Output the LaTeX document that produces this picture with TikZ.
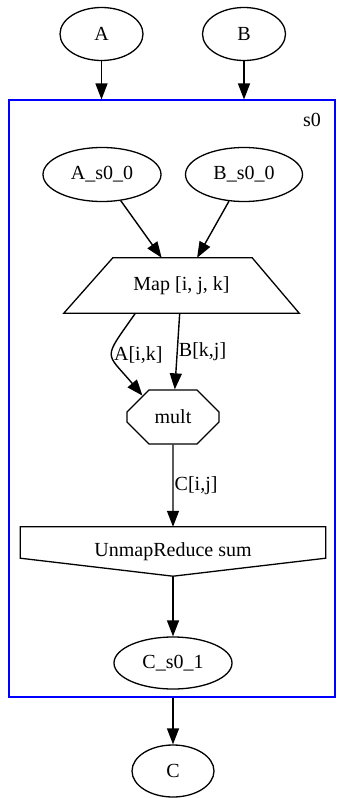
\documentclass[tikz,border=0pt]{standalone}
\usepackage{fontspec}
\setmainfont{Liberation Serif}
\usetikzlibrary{shapes.geometric,shapes.misc,arrows.meta}
\tikzstyle{en}=[shape=ellipse,draw,line width=1.3pt,inner sep=0pt]
\tikzstyle{to}=[-{Triangle[length=16pt,width=12pt]},line width=1.4pt]
\tikzstyle{lbl}=[right,inner sep=1pt]

\begin{document}
\begin{tikzpicture}[x=1pt,y=1pt,font=\fontsize{20}{24}\selectfont]
            \useasboundingbox (0,0) rectangle (337,-798);
            % cluster
            \node[draw=blue,line width=1.1pt,minimum width=326pt,minimum height=597pt,inner sep=0pt] (s0) at (172,-398.5) {};
            \node[anchor=base east,inner sep=0pt] (s0lbl) at (321,-126.5) {s0};
            % nodes
            \node[en,minimum width=83pt,minimum height=53pt] (A) at (101.5,-34) {A};
            \node[en,minimum width=83pt,minimum height=53pt] (B) at (244,-34) {B};
            \node[en,minimum width=118pt,minimum height=54pt] (As) at (102,-174.5) {A\_s0\_0};
            \node[en,minimum width=117pt,minimum height=54pt] (Bs) at (244,-174.5) {B\_s0\_0};
            \node[minimum width=235pt,minimum height=55pt,inner sep=0pt] (map) at (181.5,-285.5) {Map [i, j, k]};
            \draw[line width=1.3pt] (map.south west) -- ([xshift=49pt]map.north west) -- ([xshift=-47pt]map.north east)
                -- (map.south east) -- cycle;
            \node[chamfered rectangle,draw,line width=1.3pt,chamfered rectangle xsep=26pt,chamfered rectangle ysep=15pt,
                minimum width=92pt,minimum height=54pt,inner sep=0pt] (mult) at (173,-417) {mult};
            \node[minimum width=305pt,minimum height=49pt,inner sep=0pt] (unmap) at (173,-551.5) {UnmapReduce sum};
            \draw[line width=1.3pt] (unmap.north west) -- (unmap.north east) -- ([yshift=18pt]unmap.south east)
                -- (unmap.south) -- ([yshift=18pt]unmap.south west) -- cycle;
            \node[en,minimum width=118pt,minimum height=52pt] (Cs) at (173,-663) {C\_s0\_1};
            \node[en,minimum width=82pt,minimum height=52pt] (C) at (173,-771) {C};
            % edges
            \draw[to] (A) -- (A |- s0.north);
            \draw[to] (B) -- (B |- s0.north);
            \draw[to] (As) -- (map);
            \draw[to] (Bs) -- (map);
            \draw[to] (map.211) to[out=235,in=130,looseness=1.8] node[lbl] {A[i,k]} (mult.145);
            \draw[to] (map) -- node[lbl] {B[k,j]} (mult);
            \draw[to] (mult) -- node[lbl] {C[i,j]} (unmap);
            \draw[to] (unmap) -- (Cs);
            \draw[to] (C |- s0.south) -- (C);
        \end{tikzpicture}
\end{document}
